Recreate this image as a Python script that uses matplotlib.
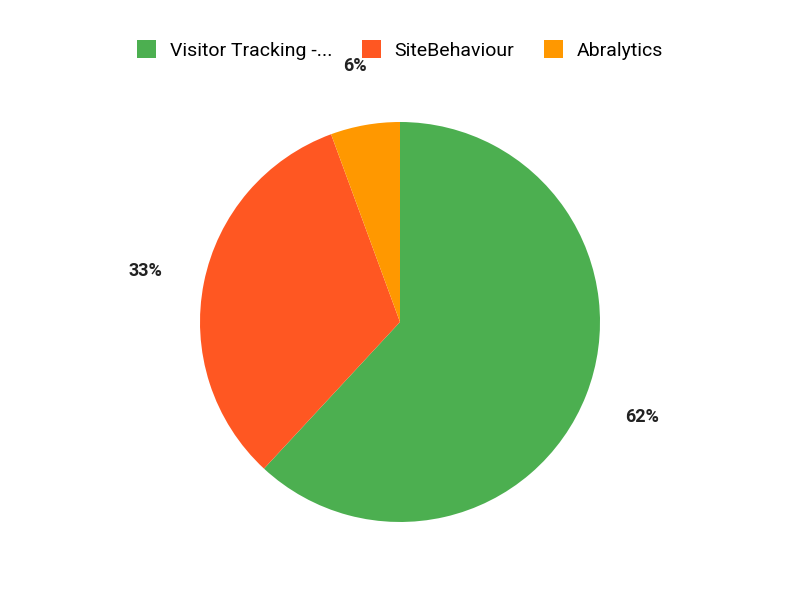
import matplotlib.pyplot as plt

plt.rcParams['font.family'] = ['Roboto', 'DejaVu Sans']

labels = ['Visitor Tracking -...', 'SiteBehaviour', 'Abralytics']
shares = [61.9, 32.5, 5.6]
pct_text = ['62%', '33%', '6%']
colors = ['#4CAF50', '#FF5722', '#FF9800']

fig = plt.figure(figsize=(8, 6), dpi=100)
ax = fig.add_axes([0.25, 0.13, 0.5, 0.6667])

wedges, _ = ax.pie(shares, colors=colors, startangle=90, counterclock=False,
                   radius=1.0)
ax.set_xlim(-1, 1)
ax.set_ylim(-1, 1)
ax.set_aspect('equal')

# percent labels outside the slices
import numpy as np
for w, t in zip(wedges, pct_text):
    ang = np.deg2rad((w.theta1 + w.theta2) / 2)
    r = 1.3
    ax.text(r * np.cos(ang), r * np.sin(ang), t, ha='center', va='center',
            fontsize=13, fontweight='bold', color='#222222', clip_on=False)

fig.legend(wedges, labels, loc='center', bbox_to_anchor=(0.5, 1 - 50 / 600),
           ncol=3, frameon=False, fontsize=14, handlelength=1.0,
           handleheight=1.0, columnspacing=1.5, handletextpad=0.7)

fig.savefig('out.png', dpi=100)
